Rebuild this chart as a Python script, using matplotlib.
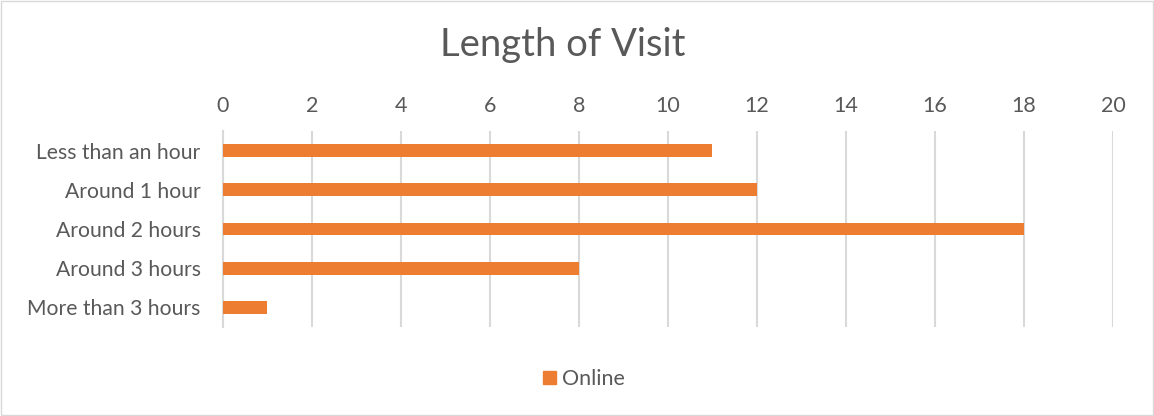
import matplotlib.pyplot as plt
from matplotlib.patches import Rectangle

# data
categories = ["Less than an hour", "Around 1 hour", "Around 2 hours",
              "Around 3 hours", "More than 3 hours"]
online = [11, 12, 18, 8, 1]
x_ticks = [0, 2, 4, 6, 8, 10, 12, 14, 16, 18, 20]

ORANGE = "#ED7D31"
GRID = "#D9D9D9"
TEXT = "#595959"

plt.rcParams["font.family"] = ["Lato", "DejaVu Sans"]

fig = plt.figure(figsize=(11.54, 4.16), dpi=100)
ax = fig.add_axes([0.1932, 0.2139, 0.7712, 0.4712])

ypos = list(range(len(categories)))
ax.barh(ypos, online, height=0.33, color=ORANGE, label="Online", zorder=3)

ax.set_ylim(len(categories) - 0.5, -0.5)
ax.set_xlim(0, 20)
ax.set_xticks(x_ticks)
ax.set_yticks(ypos)
ax.set_yticklabels(categories)

ax.xaxis.tick_top()
ax.tick_params(axis="x", length=0, pad=11, labelsize=15.5, labelcolor=TEXT)
ax.tick_params(axis="y", length=0, pad=16, labelsize=15.2, labelcolor=TEXT)
ax.grid(axis="x", color=GRID, linewidth=1.5, zorder=0)
for s in ["top", "right", "bottom"]:
    ax.spines[s].set_visible(False)
ax.spines["left"].set_color(GRID)
ax.spines["left"].set_linewidth(1.5)

fig.text(0.488, 0.893, "Length of Visit", ha="center", va="center",
         fontsize=27.5, color=TEXT)

fig.legend(handles=[Rectangle((0, 0), 1, 1, color=ORANGE)], labels=["Online"],
           loc="center", bbox_to_anchor=(0.506, 0.089), frameon=False,
           fontsize=15.5, labelcolor=TEXT, handlelength=0.6, handleheight=0.6,
           handletextpad=0.3)

# light border around the chart
fig.patches.append(Rectangle((0.001, 0.002), 0.998, 0.996, transform=fig.transFigure,
                             fill=False, edgecolor=GRID, linewidth=1))

fig.savefig("out.png", dpi=100)
